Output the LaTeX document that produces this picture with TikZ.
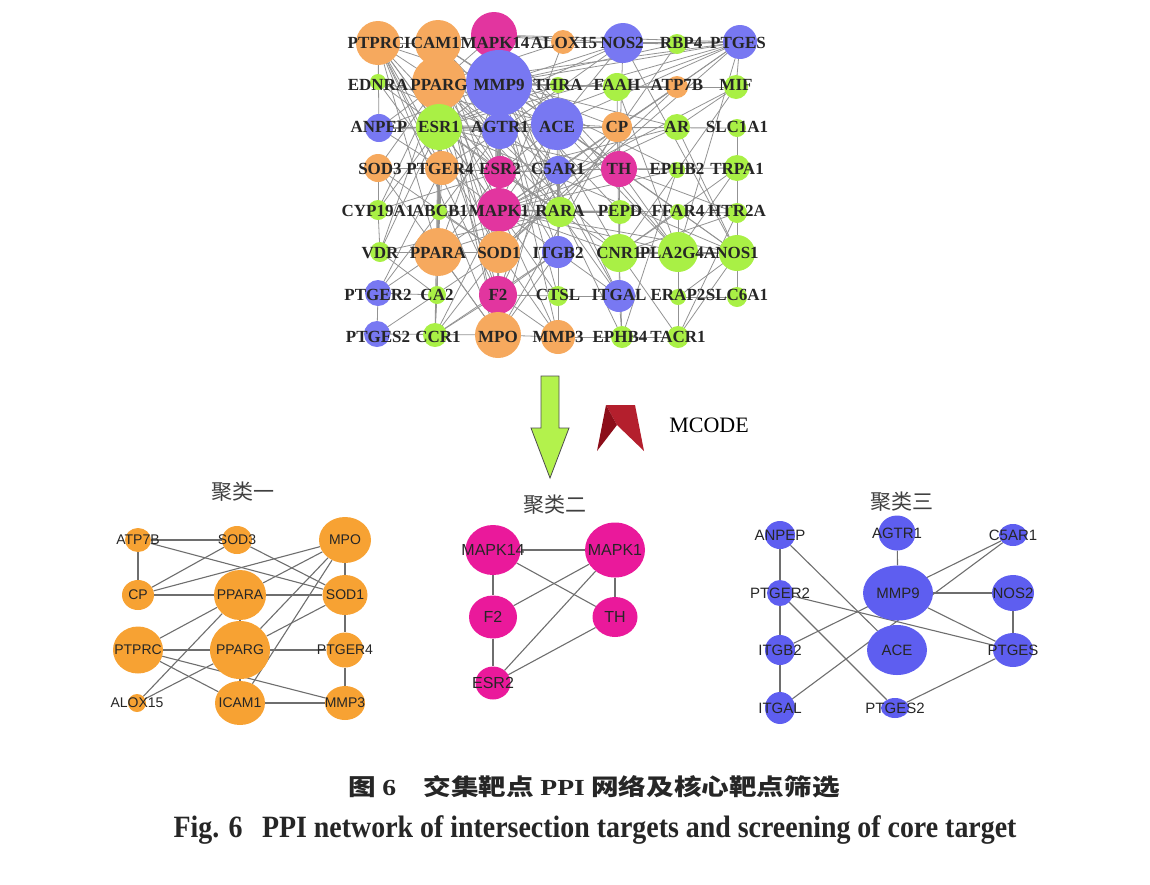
\documentclass[tikz,border=0pt]{standalone}
\usepackage{fontspec}
\usepackage{graphicx}
\setmainfont{Liberation Serif}
\newfontfamily\cjk{Noto Sans CJK SC}
\newfontfamily\arialfont{Liberation Sans}
\usetikzlibrary{shapes.geometric}

\pgfdeclarelayer{behind}
\pgfsetlayers{behind,main}

\definecolor{netorange}{HTML}{F6A95E}
\definecolor{netblue}{HTML}{7878F2}
\definecolor{netgreen}{HTML}{A9F045}
\definecolor{netpink}{HTML}{E2359F}
\definecolor{netgray}{HTML}{939393}
\definecolor{clorange}{HTML}{F7A233}
\definecolor{clpink}{HTML}{EA199B}
\definecolor{clblue}{HTML}{5E5EF0}
\definecolor{clgray}{HTML}{6E6E6E}
\definecolor{arrowgreen}{HTML}{B3F24C}
\definecolor{chevdark}{HTML}{8C0E1A}
\definecolor{chevlight}{HTML}{B41F2D}

\newcommand{\gene}[1]{\makebox[0pt]{#1}}

\begin{document}
\begin{tikzpicture}[x=1pt, y=-1pt,
  netedge/.style={draw=netgray, line width=0.8pt},
  netlabel/.style={inner sep=0pt, text=black!85, font=\bfseries\fontsize{17}{17}\selectfont},
  dims/.style 2 args={minimum width=#1pt, minimum height=#2pt},
  clnode/.style={ellipse, inner sep=0pt, text=black!85},
  onenode/.style={clnode, fill=clorange, font=\arialfont\fontsize{14}{14}\selectfont},
  twonode/.style={clnode, fill=clpink, font=\arialfont\fontsize{16}{16}\selectfont},
  threenode/.style={clnode, fill=clblue, font=\arialfont\fontsize{15}{15}\selectfont},
  cledge/.style={draw=clgray, line width=1.1pt},
  cltitle/.style={inner sep=0pt, text=black!75, font=\cjk\fontsize{21}{21}\selectfont}]

\useasboundingbox (0,0) rectangle (1150,884);

              %network
  \coordinate (T-PTPRC) at (378,43);
  \coordinate (T-ICAM1) at (438,43);
  \coordinate (T-MAPK14) at (494,35);
  \coordinate (T-ALOX15) at (563,42);
  \coordinate (T-NOS2) at (623,43);
  \coordinate (T-RBP4) at (677,44);
  \coordinate (T-PTGES) at (740,42);
  \coordinate (T-EDNRA) at (378,82);
  \coordinate (T-PPARG) at (439,83);
  \coordinate (T-MMP9) at (499,83);
  \coordinate (T-THRA) at (558,85);
  \coordinate (T-FAAH) at (617,87);
  \coordinate (T-ATP7B) at (677,87);
  \coordinate (T-MIF) at (736,87);
  \coordinate (T-ANPEP) at (379,128);
  \coordinate (T-ESR1) at (439,127);
  \coordinate (T-AGTR1) at (500,131);
  \coordinate (T-ACE) at (557,124);
  \coordinate (T-CP) at (617,127);
  \coordinate (T-AR) at (677,127);
  \coordinate (T-SLC1A1) at (737,128);
  \coordinate (T-SOD3) at (378,168);
  \coordinate (T-PTGER4) at (442,168);
  \coordinate (T-ESR2) at (500,172);
  \coordinate (T-C5AR1) at (558,170);
  \coordinate (T-TH) at (619,169);
  \coordinate (T-EPHB2) at (677,170);
  \coordinate (T-TRPA1) at (737,168);
  \coordinate (T-CYP19A1) at (378,210);
  \coordinate (T-ABCB1) at (439,212);
  \coordinate (T-MAPK1) at (499,210);
  \coordinate (T-RARA) at (560,212);
  \coordinate (T-PEPD) at (620,212);
  \coordinate (T-FFAR4) at (678,212);
  \coordinate (T-HTR2A) at (737,213);
  \coordinate (T-VDR) at (380,252);
  \coordinate (T-PPARA) at (438,252);
  \coordinate (T-SOD1) at (499,252);
  \coordinate (T-ITGB2) at (558,252);
  \coordinate (T-CNR1) at (619,253);
  \coordinate (T-PLA2G4A) at (678,252);
  \coordinate (T-NOS1) at (737,253);
  \coordinate (T-PTGER2) at (378,293);
  \coordinate (T-CA2) at (437,295);
  \coordinate (T-F2) at (498,295);
  \coordinate (T-CTSL) at (558,296);
  \coordinate (T-ITGAL) at (619,296);
  \coordinate (T-ERAP2) at (678,297);
  \coordinate (T-SLC6A1) at (737,297);
  \coordinate (T-PTGES2) at (377,334);
  \coordinate (T-CCR1) at (435,335);
  \coordinate (T-MPO) at (498,335);
  \coordinate (T-MMP3) at (558,337);
  \coordinate (T-EPHB4) at (622,337);
  \coordinate (T-TACR1) at (678,337);

  \draw[netedge] (T-PTPRC) edge (T-ICAM1) edge (T-EDNRA) edge (T-MMP9) edge (T-PPARG) edge (T-ESR1) edge (T-MAPK1) edge (T-SOD1) edge (T-PPARA) edge (T-F2) edge (T-MPO) edge (T-PTGER4) edge (T-ESR2) edge (T-ANPEP);
  \draw[netedge] (T-ICAM1) edge (T-MAPK14) edge (T-MMP9) edge (T-PPARG) edge (T-ESR1) edge (T-AGTR1) edge (T-MAPK1) edge (T-SOD1) edge (T-MPO) edge (T-ACE) edge (T-PPARA) edge (T-ITGB2) edge (T-ITGAL) edge (T-F2) edge (T-ESR2) edge (T-C5AR1);
  \draw[netedge] (T-MAPK14) edge (T-ALOX15) edge (T-MMP9) edge (T-NOS2) edge (T-PTGES) edge (T-ESR2) edge (T-MAPK1) edge (T-TH) edge (T-RARA) edge (T-F2) edge (T-AGTR1) edge (T-ACE) edge (T-ESR1) edge (T-CNR1) edge (T-PLA2G4A) edge (T-SOD1) edge (T-PPARG);
  \draw[netedge] (T-ALOX15) edge (T-NOS2) edge (T-PPARG) edge (T-PTGES) edge (T-MAPK1);
  \draw[netedge] (T-NOS2) edge (T-RBP4) edge (T-PTGES) edge (T-MMP9) edge (T-ACE) edge (T-AGTR1) edge (T-NOS1) edge (T-TH) edge (T-ESR1);
  \draw[netedge] (T-RBP4) edge (T-PTGES) edge (T-MMP9) edge (T-RARA);
  \draw[netedge] (T-PTGES) edge (T-MIF) edge (T-MMP9) edge (T-PPARG) edge (T-ACE) edge (T-AGTR1) edge (T-PLA2G4A) edge (T-C5AR1) edge (T-ESR1) edge (T-MAPK1) edge (T-SOD1);
  \draw[netedge] (T-EDNRA) edge (T-ESR1) edge (T-AGTR1) edge (T-PTGER4) edge (T-ACE);
  \draw[netedge] (T-PPARG) edge (T-MMP9) edge (T-ESR1) edge (T-PPARA) edge (T-SOD1) edge (T-MAPK1) edge (T-ESR2) edge (T-CYP19A1) edge (T-ABCB1) edge (T-VDR) edge (T-RARA) edge (T-CA2) edge (T-CCR1) edge (T-FAAH) edge (T-ATP7B) edge (T-MPO) edge (T-PTGER4) edge (T-SOD3) edge (T-ANPEP) edge (T-AGTR1) edge (T-ACE) edge (T-CNR1);
  \draw[netedge] (T-MMP9) edge (T-THRA) edge (T-FAAH) edge (T-ESR1) edge (T-AGTR1) edge (T-ACE) edge (T-CP) edge (T-AR) edge (T-ESR2) edge (T-MAPK1) edge (T-C5AR1) edge (T-TH) edge (T-SOD1) edge (T-PPARA) edge (T-F2) edge (T-MPO) edge (T-MMP3) edge (T-ITGB2) edge (T-CTSL) edge (T-ITGAL) edge (T-PEPD) edge (T-EPHB2) edge (T-EPHB4) edge (T-ANPEP);
  \draw[netedge] (T-THRA) edge (T-ESR1) edge (T-RARA);
  \draw[netedge] (T-FAAH) edge (T-CNR1) edge (T-ATP7B) edge (T-PLA2G4A);
  \draw[netedge] (T-ATP7B) edge (T-MIF) edge (T-CP) edge (T-SOD1);
  \draw[netedge] (T-MIF) edge (T-MAPK1) edge (T-CNR1) edge (T-AR);
  \draw[netedge] (T-ANPEP) edge (T-ESR1) edge (T-ACE) edge (T-PTGER4) edge (T-AGTR1);
  \draw[netedge] (T-ESR1) edge (T-AGTR1) edge (T-ESR2) edge (T-AR) edge (T-MAPK1) edge (T-CYP19A1) edge (T-SOD1) edge (T-PPARA) edge (T-TH) edge (T-RARA) edge (T-F2) edge (T-CA2) edge (T-VDR) edge (T-NOS1) edge (T-SLC1A1) edge (T-ABCB1);
  \draw[netedge] (T-AGTR1) edge (T-ACE) edge (T-ESR2) edge (T-MAPK1) edge (T-C5AR1) edge (T-F2) edge (T-CP) edge (T-SOD1) edge (T-PTGER4) edge (T-PTGER2);
  \draw[netedge] (T-ACE) edge (T-CP) edge (T-ESR2) edge (T-MAPK1) edge (T-TH) edge (T-F2) edge (T-ITGB2) edge (T-MPO) edge (T-PLA2G4A) edge (T-NOS1);
  \draw[netedge] (T-CP) edge (T-TH) edge (T-SOD1) edge (T-MPO);
  \draw[netedge] (T-AR) edge (T-ESR2) edge (T-MAPK1) edge (T-NOS1);
  \draw[netedge] (T-SLC1A1) edge (T-TRPA1);
  \draw[netedge] (T-SOD3) edge (T-SOD1) edge (T-PTGER4) edge (T-MPO) edge (T-CYP19A1);
  \draw[netedge] (T-PTGER4) edge (T-ESR2) edge (T-MAPK1) edge (T-PTGER2) edge (T-PPARA);
  \draw[netedge] (T-ESR2) edge (T-MAPK1) edge (T-C5AR1) edge (T-TH) edge (T-F2) edge (T-SOD1) edge (T-CNR1) edge (T-PPARA) edge (T-CYP19A1) edge (T-RARA);
  \draw[netedge] (T-C5AR1) edge (T-MAPK1) edge (T-F2) edge (T-ITGB2) edge (T-ITGAL) edge (T-CTSL) edge (T-TH);
  \draw[netedge] (T-TH) edge (T-MAPK1) edge (T-CNR1) edge (T-PLA2G4A) edge (T-NOS1) edge (T-TRPA1) edge (T-EPHB2) edge (T-HTR2A);
  \draw[netedge] (T-EPHB2) edge (T-EPHB4) edge (T-MAPK1);
  \draw[netedge] (T-TRPA1) edge (T-HTR2A) edge (T-CNR1) edge (T-PLA2G4A);
  \draw[netedge] (T-CYP19A1) edge (T-VDR);
  \draw[netedge] (T-ABCB1) edge (T-MAPK1) edge (T-SOD1);
  \draw[netedge] (T-MAPK1) edge (T-RARA) edge (T-PEPD) edge (T-SOD1) edge (T-PPARA) edge (T-F2) edge (T-MPO) edge (T-ITGB2) edge (T-CNR1) edge (T-PLA2G4A) edge (T-NOS1) edge (T-CTSL) edge (T-FFAR4) edge (T-MMP3) edge (T-CCR1);
  \draw[netedge] (T-RARA) edge (T-PPARA) edge (T-VDR) edge (T-PEPD);
  \draw[netedge] (T-PEPD) edge (T-ITGAL);
  \draw[netedge] (T-FFAR4) edge (T-CNR1) edge (T-PLA2G4A) edge (T-HTR2A);
  \draw[netedge] (T-HTR2A) edge (T-NOS1) edge (T-CNR1) edge (T-TACR1);
  \draw[netedge] (T-VDR) edge (T-PPARA) edge (T-CA2);
  \draw[netedge] (T-PPARA) edge (T-SOD1) edge (T-MPO) edge (T-CA2) edge (T-CCR1) edge (T-PTGER2);
  \draw[netedge] (T-SOD1) edge (T-F2) edge (T-MPO) edge (T-MMP3) edge (T-PTGES2) edge (T-CCR1);
  \draw[netedge] (T-ITGB2) edge (T-ITGAL) edge (T-MPO) edge (T-CCR1) edge (T-F2);
  \draw[netedge] (T-CNR1) edge (T-PLA2G4A) edge (T-NOS1) edge (T-TACR1) edge (T-EPHB4);
  \draw[netedge] (T-PLA2G4A) edge (T-NOS1) edge (T-ERAP2) edge (T-TACR1);
  \draw[netedge] (T-NOS1) edge (T-SLC6A1) edge (T-ERAP2) edge (T-TACR1);
  \draw[netedge] (T-PTGER2) edge (T-PTGES2) edge (T-CA2);
  \draw[netedge] (T-CA2) edge (T-CCR1);
  \draw[netedge] (T-F2) edge (T-MPO) edge (T-CTSL) edge (T-MMP3) edge (T-CCR1);
  \draw[netedge] (T-CTSL) edge (T-MMP3) edge (T-ITGAL);
  \draw[netedge] (T-ITGAL) edge (T-EPHB4);
  \draw[netedge] (T-ERAP2) edge (T-SLC6A1);
  \draw[netedge] (T-MPO) edge (T-MMP3) edge (T-PTGES2);
  \draw[netedge] (T-MMP3) edge (T-EPHB4);
  \draw[netedge] (T-EPHB4) edge (T-TACR1);

  \fill[netorange] (T-PTPRC) circle (22);
  \fill[netorange] (T-ICAM1) circle (23);
  \fill[netpink] (T-MAPK14) circle (23);
  \fill[netorange] (T-ALOX15) circle (12);
  \fill[netblue] (T-NOS2) circle (20);
  \fill[netgreen] (T-RBP4) circle (10);
  \fill[netblue] (T-PTGES) circle (17);
  \fill[netgreen] (T-EDNRA) circle (8);
  \fill[netorange] (T-PPARG) circle (27);
  \fill[netblue] (T-MMP9) circle (33);
  \fill[netgreen] (T-THRA) circle (8);
  \fill[netgreen] (T-FAAH) circle (14);
  \fill[netorange] (T-ATP7B) circle (11);
  \fill[netgreen] (T-MIF) circle (12);
  \fill[netblue] (T-ANPEP) circle (14);
  \fill[netgreen] (T-ESR1) circle (23);
  \fill[netblue] (T-AGTR1) circle (18);
  \fill[netblue] (T-ACE) circle (26);
  \fill[netorange] (T-CP) circle (15);
  \fill[netgreen] (T-AR) circle (13);
  \fill[netgreen] (T-SLC1A1) circle (9);
  \fill[netorange] (T-SOD3) circle (14);
  \fill[netorange] (T-PTGER4) circle (17);
  \fill[netpink] (T-ESR2) circle (16);
  \fill[netblue] (T-C5AR1) circle (14);
  \fill[netpink] (T-TH) circle (18);
  \fill[netgreen] (T-EPHB2) circle (8);
  \fill[netgreen] (T-TRPA1) circle (13);
  \fill[netgreen] (T-CYP19A1) circle (10);
  \fill[netgreen] (T-ABCB1) circle (8);
  \fill[netpink] (T-MAPK1) circle (22);
  \fill[netgreen] (T-RARA) circle (15);
  \fill[netgreen] (T-PEPD) circle (12);
  \fill[netgreen] (T-FFAR4) circle (8);
  \fill[netgreen] (T-HTR2A) circle (10);
  \fill[netgreen] (T-VDR) circle (10);
  \fill[netorange] (T-PPARA) circle (24);
  \fill[netorange] (T-SOD1) circle (21);
  \fill[netblue] (T-ITGB2) circle (16);
  \fill[netgreen] (T-CNR1) circle (19);
  \fill[netgreen] (T-PLA2G4A) circle (20);
  \fill[netgreen] (T-NOS1) circle (18);
  \fill[netblue] (T-PTGER2) circle (13);
  \fill[netgreen] (T-CA2) circle (9);
  \fill[netpink] (T-F2) circle (19);
  \fill[netgreen] (T-CTSL) circle (10);
  \fill[netblue] (T-ITGAL) circle (16);
  \fill[netgreen] (T-ERAP2) circle (8);
  \fill[netgreen] (T-SLC6A1) circle (10);
  \fill[netblue] (T-PTGES2) circle (13);
  \fill[netgreen] (T-CCR1) circle (12);
  \fill[netorange] (T-MPO) circle (23);
  \fill[netorange] (T-MMP3) circle (17);
  \fill[netgreen] (T-EPHB4) circle (11);
  \fill[netgreen] (T-TACR1) circle (11);

  \node[netlabel] (L-PTPRC) at (376,43) {PTPRC};
  \node[netlabel] (L-ICAM1) at (432,43) {ICAM1};
  \node[netlabel] (L-MAPK14) at (495,43) {MAPK14};
  \node[netlabel] (L-ALOX15) at (564,43) {ALOX15};
  \node[netlabel] (L-NOS2) at (622,43) {NOS2};
  \node[netlabel] (L-RBP4) at (681,43) {RBP4};
  \node[netlabel] (L-PTGES) at (738,43) {PTGES};
  \node[netlabel] (L-EDNRA) at (378,85) {EDNRA};
  \node[netlabel] (L-PPARG) at (439,85) {PPARG};
  \node[netlabel] (L-MMP9) at (499,85) {MMP9};
  \node[netlabel] (L-THRA) at (558,85) {THRA};
  \node[netlabel] (L-FAAH) at (617,85) {FAAH};
  \node[netlabel] (L-ATP7B) at (677,85) {ATP7B};
  \node[netlabel] (L-MIF) at (736,85) {MIF};
  \node[netlabel] (L-ANPEP) at (379,127) {ANPEP};
  \node[netlabel] (L-ESR1) at (439,127) {ESR1};
  \node[netlabel] (L-AGTR1) at (500,127) {AGTR1};
  \node[netlabel] (L-ACE) at (557,127) {ACE};
  \node[netlabel] (L-CP) at (617,127) {CP};
  \node[netlabel] (L-AR) at (677,127) {AR};
  \node[netlabel] (L-SLC1A1) at (737,127) {SLC1A1};
  \node[netlabel] (L-SOD3) at (380,169) {SOD3};
  \node[netlabel] (L-PTGER4) at (440,169) {PTGER4};
  \node[netlabel] (L-ESR2) at (500,169) {ESR2};
  \node[netlabel] (L-C5AR1) at (558,169) {C5AR1};
  \node[netlabel] (L-TH) at (619,169) {TH};
  \node[netlabel] (L-EPHB2) at (677,169) {EPHB2};
  \node[netlabel] (L-TRPA1) at (737,169) {TRPA1};
  \node[netlabel] (L-CYP19A1) at (378,211) {CYP19A1};
  \node[netlabel] (L-ABCB1) at (440,211) {ABCB1};
  \node[netlabel] (L-MAPK1) at (499,211) {MAPK1};
  \node[netlabel] (L-RARA) at (560,211) {RARA};
  \node[netlabel] (L-PEPD) at (620,211) {PEPD};
  \node[netlabel] (L-FFAR4) at (678,211) {FFAR4};
  \node[netlabel] (L-HTR2A) at (737,211) {HTR2A};
  \node[netlabel] (L-VDR) at (380,253) {VDR};
  \node[netlabel] (L-PPARA) at (438,253) {PPARA};
  \node[netlabel] (L-SOD1) at (499,253) {SOD1};
  \node[netlabel] (L-ITGB2) at (558,253) {ITGB2};
  \node[netlabel] (L-CNR1) at (619,253) {CNR1};
  \node[netlabel] (L-PLA2G4A) at (678,253) {PLA2G4A};
  \node[netlabel] (L-NOS1) at (737,253) {NOS1};
  \node[netlabel] (L-PTGER2) at (378,295) {PTGER2};
  \node[netlabel] (L-CA2) at (437,295) {CA2};
  \node[netlabel] (L-F2) at (498,295) {F2};
  \node[netlabel] (L-CTSL) at (558,295) {CTSL};
  \node[netlabel] (L-ITGAL) at (619,295) {ITGAL};
  \node[netlabel] (L-ERAP2) at (678,295) {ERAP2};
  \node[netlabel] (L-SLC6A1) at (737,295) {SLC6A1};
  \node[netlabel] (L-PTGES2) at (378,337) {PTGES2};
  \node[netlabel] (L-CCR1) at (438,337) {CCR1};
  \node[netlabel] (L-MPO) at (498,337) {MPO};
  \node[netlabel] (L-MMP3) at (558,337) {MMP3};
  \node[netlabel] (L-EPHB4) at (620,337) {EPHB4};
  \node[netlabel] (L-TACR1) at (678,337) {TACR1};

   %arrow and MCODE
  \draw[black!70, fill=arrowgreen, line width=0.8pt] (541,376) -- (559,376) -- (559,428) -- (569,428) -- (550,478) -- (531,428) -- (541,428) -- cycle;
  \fill[chevlight] (606,405) -- (635,405) -- (644,451) -- (617,425) -- cycle;
  \fill[chevdark] (606,405) -- (617,425) -- (597,451) -- cycle;
  \node[inner sep=0pt, font=\fontsize{22}{22}\selectfont] (mcode) at (709,425) {MCODE};

   %cluster one
  \node[cltitle] (A-title) at (243,492) {聚类一};
  \node[onenode, dims={26}{24}] (A-ATP7B) at (138,540) {\gene{ATP7B}};
  \node[onenode, dims={30}{28}] (A-SOD3) at (237,540) {\gene{SOD3}};
  \node[onenode, dims={52}{46}] (A-MPO) at (345,540) {\gene{MPO}};
  \node[onenode, dims={32}{30}] (A-CP) at (138,595) {\gene{CP}};
  \node[onenode, dims={52}{50}] (A-PPARA) at (240,595) {\gene{PPARA}};
  \node[onenode, dims={45}{40}] (A-SOD1) at (345,595) {\gene{SOD1}};
  \node[onenode, dims={50}{47}] (A-PTPRC) at (138,650) {\gene{PTPRC}};
  \node[onenode, dims={60}{58}] (A-PPARG) at (240,650) {\gene{PPARG}};
  \node[onenode, dims={37}{35}] (A-PTGER4) at (345,650) {\gene{PTGER4}};
  \node[onenode, dims={18}{18}] (A-ALOX15) at (137,703) {\gene{ALOX15}};
  \node[onenode, dims={50}{44}] (A-ICAM1) at (240,703) {\gene{ICAM1}};
  \node[onenode, dims={40}{34}] (A-MMP3) at (345,703) {\gene{MMP3}};

  \begin{pgfonlayer}{behind}
  \draw[cledge] (A-ATP7B) -- (A-SOD3);
  \draw[cledge] (A-ATP7B) -- (A-CP);
  \draw[cledge] (A-ATP7B) -- (A-SOD1);
  \draw[cledge] (A-SOD3) -- (A-CP);
  \draw[cledge] (A-SOD3) -- (A-SOD1);
  \draw[cledge] (A-CP) -- (A-MPO);
  \draw[cledge] (A-CP) -- (A-PPARA);
  \draw[cledge] (A-MPO) -- (A-SOD1);
  \draw[cledge] (A-MPO) -- (A-PPARA);
  \draw[cledge] (A-MPO) -- (A-PPARG);
  \draw[cledge] (A-MPO) -- (A-ICAM1);
  \draw[cledge] (A-PPARA) -- (A-SOD1);
  \draw[cledge] (A-PPARA) -- (A-PPARG);
  \draw[cledge] (A-PPARA) -- (A-PTPRC);
  \draw[cledge] (A-PPARA) -- (A-ALOX15);
  \draw[cledge] (A-SOD1) -- (A-PPARG);
  \draw[cledge] (A-SOD1) -- (A-PTGER4);
  \draw[cledge] (A-PTPRC) -- (A-PPARG);
  \draw[cledge] (A-PTPRC) -- (A-ICAM1);
  \draw[cledge] (A-PTPRC) -- (A-MMP3);
  \draw[cledge] (A-PPARG) -- (A-PTGER4);
  \draw[cledge] (A-PPARG) -- (A-ALOX15);
  \draw[cledge] (A-PPARG) -- (A-ICAM1);
  \draw[cledge] (A-PTGER4) -- (A-MMP3);
  \draw[cledge] (A-ICAM1) -- (A-MMP3);
  \end{pgfonlayer}

   %cluster two
  \node[cltitle] (B-title) at (555,505) {聚类二};
  \node[twonode, dims={55}{50}] (B-MAPK14) at (493,550) {\gene{MAPK14}};
  \node[twonode, dims={60}{55}] (B-MAPK1) at (615,550) {\gene{MAPK1}};
  \node[twonode, dims={48}{43}] (B-F2) at (493,617) {\gene{F2}};
  \node[twonode, dims={45}{40}] (B-TH) at (615,617) {\gene{TH}};
  \node[twonode, dims={35}{33}] (B-ESR2) at (493,683) {\gene{ESR2}};

  \begin{pgfonlayer}{behind}
  \draw[cledge] (B-MAPK14) -- (B-MAPK1);
  \draw[cledge] (B-MAPK14) -- (B-F2);
  \draw[cledge] (B-MAPK14) -- (B-TH);
  \draw[cledge] (B-MAPK1) -- (B-F2);
  \draw[cledge] (B-MAPK1) -- (B-TH);
  \draw[cledge] (B-MAPK1) -- (B-ESR2);
  \draw[cledge] (B-F2) -- (B-ESR2);
  \draw[cledge] (B-TH) -- (B-ESR2);
  \end{pgfonlayer}

   %cluster three
  \node[cltitle] (C-title) at (902,502) {聚类三};
  \node[threenode, dims={30}{28}] (C-ANPEP) at (780,535) {\gene{ANPEP}};
  \node[threenode, dims={37}{35}] (C-AGTR1) at (897,533) {\gene{AGTR1}};
  \node[threenode, dims={28}{22}] (C-C5AR1) at (1013,535) {\gene{C5AR1}};
  \node[threenode, dims={26}{26}] (C-PTGER2) at (780,593) {\gene{PTGER2}};
  \node[threenode, dims={70}{55}] (C-MMP9) at (898,593) {\gene{MMP9}};
  \node[threenode, dims={42}{36}] (C-NOS2) at (1013,593) {\gene{NOS2}};
  \node[threenode, dims={30}{30}] (C-ITGB2) at (780,650) {\gene{ITGB2}};
  \node[threenode, dims={60}{50}] (C-ACE) at (897,650) {\gene{ACE}};
  \node[threenode, dims={40}{34}] (C-PTGES) at (1013,650) {\gene{PTGES}};
  \node[threenode, dims={30}{32}] (C-ITGAL) at (780,708) {\gene{ITGAL}};
  \node[threenode, dims={28}{20}] (C-PTGES2) at (895,708) {\gene{PTGES2}};

  \begin{pgfonlayer}{behind}
  \draw[cledge] (C-ANPEP) -- (C-PTGER2);
  \draw[cledge] (C-ANPEP) -- (C-ACE);
  \draw[cledge] (C-AGTR1) -- (C-MMP9);
  \draw[cledge] (C-C5AR1) -- (C-ITGB2);
  \draw[cledge] (C-C5AR1) -- (C-ITGAL);
  \draw[cledge] (C-MMP9) -- (C-NOS2);
  \draw[cledge] (C-MMP9) -- (C-PTGES);
  \draw[cledge] (C-PTGER2) -- (C-PTGES);
  \draw[cledge] (C-PTGER2) -- (C-PTGES2);
  \draw[cledge] (C-PTGER2) -- (C-ITGB2);
  \draw[cledge] (C-ITGB2) -- (C-ITGAL);
  \draw[cledge] (C-NOS2) -- (C-PTGES);
  \draw[cledge] (C-PTGES) -- (C-PTGES2);
  \end{pgfonlayer}

   %caption
  \node[inner sep=0pt, text=black!85, font=\cjk\bfseries\fontsize{23}{23}\selectfont] (cap-cn) at (594,787) {\scalebox{1.2}[1]{图 {\rmfamily\bfseries 6}\quad 交集靶点 {\rmfamily\bfseries PPI} 网络及核心靶点筛选}};
  \node[inner sep=0pt, text=black!85, font=\bfseries\fontsize{31}{31}\selectfont] (cap-en) at (595,830) {\scalebox{0.9}[1]{Fig. 6\hspace{0.7em}PPI network of intersection targets and screening of core target}};

\end{tikzpicture}
\end{document}
